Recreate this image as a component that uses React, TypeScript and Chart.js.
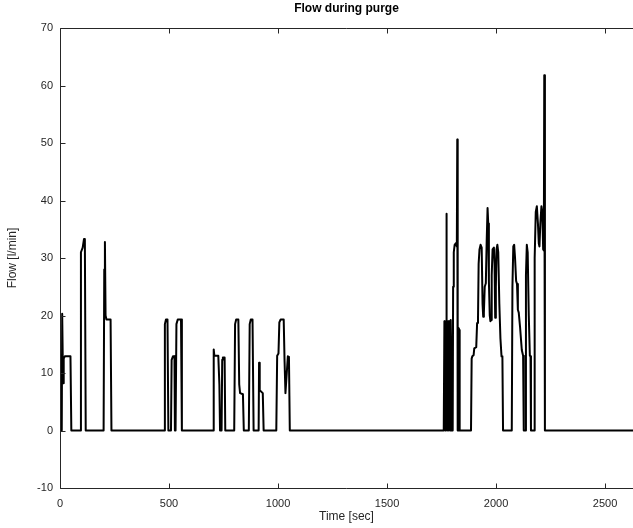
import React, { useEffect, useRef } from "react";
import { Chart, registerables } from "chart.js";

Chart.register(...registerables);

// Time [sec] and flow [l/min] samples, grouped by purge burst
const burstA_t = [0, 8, 10, 12, 14, 17, 22, 48, 52, 92, 96, 104, 110, 114, 118, 200, 203, 206, 209, 213, 232, 236];
const burstA_v = [0, 0, 20.3, 20.3, 8.2, 12.5, 12.9, 12.9, 0, 0, 31, 31.8, 33.3, 33.3, 0, 0, 28, 32.8, 20, 19.3, 19.3, 0];

const burstB_t = [477, 481, 486, 493, 497, 509, 512, 518, 525, 527, 530, 534, 540, 555, 559];
const burstB_v = [0, 18.5, 19.3, 19.3, 0, 0, 12.3, 12.9, 12.9, 0, 0, 18.5, 19.3, 19.3, 0];

const burstC_t = [702, 705, 708, 726, 731, 734, 741, 744, 747, 755, 758, 799, 803, 808, 818, 822, 826, 839, 843, 866, 870, 875, 883, 888, 911, 913, 916, 930, 934, 992, 996, 1002, 1006, 1012, 1026, 1030, 1034, 1040, 1045, 1050, 1054];
const burstC_v = [0, 14.1, 13, 13, 8, 0, 0, 12.3, 12.7, 12.7, 0, 0, 18.5, 19.3, 19.3, 8, 6.5, 6.3, 0, 0, 18.5, 19.3, 19.3, 0, 0, 11.8, 7, 6.5, 0, 0, 13, 13.4, 18.8, 19.3, 19.3, 12, 6.5, 10, 12.9, 12.8, 0];

const burstD_t = [1760, 1763, 1765, 1767, 1769, 1771, 1772, 1774, 1776, 1780, 1782, 1784, 1786, 1788, 1790, 1792, 1794, 1796, 1801, 1803, 1806, 1810, 1816, 1820, 1822, 1824, 1828, 1829, 1831, 1833];
const burstD_v = [0, 19, 14, 0, 19, 13.8, 37.7, 14, 0, 19, 14.5, 0, 19, 13, 0, 19.2, 14, 0, 0, 25, 31, 32.3, 32.6, 32, 50.6, 0, 0, 17.8, 17.5, 0];

const burstE_t = [1885, 1888, 1891, 1897, 1900, 1909, 1913, 1917, 1920, 1924, 1929, 1934, 1938, 1941, 1944, 1948, 1953, 1957, 1961, 1964, 1967, 1971, 1974, 1977, 1980, 1984, 1990, 1993, 1996, 1999, 2002, 2006, 2010, 2015, 2020, 2025, 2029, 2032];
const burstE_v = [0, 12.5, 12.9, 13.1, 14.3, 14.5, 18.7, 19, 29, 31.5, 32.3, 31.8, 22, 19.8, 20.5, 25, 25.6, 33, 38.7, 36, 26, 20, 19, 19.2, 27, 31.5, 31.8, 29, 19.6, 25, 31.5, 32.3, 31, 22, 16, 12.9, 12.9, 0];

const burstF_t = [2072, 2075, 2079, 2083, 2087, 2092, 2096, 2100, 2104, 2110, 2118, 2124, 2127, 2134, 2137, 2141, 2145, 2150, 2155, 2158, 2160, 2174, 2177, 2182, 2187, 2192, 2196, 2199, 2203, 2208, 2212, 2216, 2219, 2221, 2224, 2628];
const burstF_v = [0, 25, 32, 32.3, 30, 26, 25.5, 21, 20.5, 18, 14, 13, 0, 0, 27, 32.3, 31, 20, 13, 12.9, 0, 0, 30, 38, 39, 36, 32.5, 32, 36, 39, 38, 31.5, 31.3, 61.8, 0, 0];

const xTicks = [0, 500, 1000, 1500, 2000, 2500];
const yTicks = [-10, 0, 10, 20, 30, 40, 50, 60, 70];

const X_MIN = 0;
const X_MAX = 2628;
const Y_MIN = -10;
const Y_MAX = 70;

const TITLE = "Flow during purge";
const FONT = "'Liberation Sans', Arial, Helvetica, sans-serif";
const AXIS_COLOR = "#262626";

const matlabAxes = {
  id: "matlabAxes",
  afterDatasetsDraw(chart: any) {
    const { ctx, chartArea, scales } = chart;
    const { left, right, top, bottom } = chartArea;
    const x = scales.x;
    const y = scales.y;
    ctx.save();
    ctx.strokeStyle = AXIS_COLOR;
    ctx.lineWidth = 1;
    ctx.beginPath();
    const l = Math.round(left) + 0.5;
    const t = Math.round(top) + 0.5;
    const b = Math.round(bottom) + 0.5;
    ctx.moveTo(l, t);
    ctx.lineTo(right, t);
    ctx.moveTo(l, t);
    ctx.lineTo(l, b);
    ctx.moveTo(l, b);
    ctx.lineTo(right, b);
    const tl = 5;
    xTicks.forEach((v) => {
      const px = Math.round(x.getPixelForValue(v)) + 0.5;
      ctx.moveTo(px, b);
      ctx.lineTo(px, b - tl);
      ctx.moveTo(px, t);
      ctx.lineTo(px, t + tl);
    });
    yTicks.forEach((v) => {
      const py = Math.round(y.getPixelForValue(v)) + 0.5;
      ctx.moveTo(l, py);
      ctx.lineTo(l + tl, py);
    });
    ctx.stroke();

    // axes title, centred over the plot area
    ctx.fillStyle = "#000000";
    ctx.font = `bold 12px ${FONT}`;
    ctx.textAlign = "center";
    ctx.textBaseline = "middle";
    ctx.fillText(TITLE, (left + right) / 2, 9);
    ctx.restore();
  },
};

function toPoints(ts: number[], vs: number[]) {
  return ts.map((t, i) => ({ x: t, y: vs[i] }));
}

export default function App() {
  const canvasRef = useRef<HTMLCanvasElement | null>(null);

  useEffect(() => {
    const canvas = canvasRef.current;
    if (!canvas) return;
    const points = [
      ...toPoints(burstA_t, burstA_v),
      ...toPoints(burstB_t, burstB_v),
      ...toPoints(burstC_t, burstC_v),
      ...toPoints(burstD_t, burstD_v),
      ...toPoints(burstE_t, burstE_v),
      ...toPoints(burstF_t, burstF_v),
    ];
    const chart = new Chart(canvas, {
      type: "line",
      data: {
        datasets: [
          {
            label: "Flow",
            data: points,
            borderColor: "#000000",
            borderWidth: 2,
            pointRadius: 0,
            tension: 0,
            borderJoinStyle: "round",
            borderCapStyle: "round",
            fill: false,
          },
        ],
      },
      options: {
        responsive: false,
        animation: false,
        parsing: false,
        layout: { padding: { top: 28, left: 0, right: 0, bottom: 0 } },
        plugins: {
          legend: { display: false },
          tooltip: { enabled: false },
          title: { display: false },
        },
        scales: {
          x: {
            type: "linear",
            min: X_MIN,
            max: X_MAX,
            afterBuildTicks: (s: any) => {
              s.ticks = xTicks.map((v) => ({ value: v }));
            },
            afterFit: (s: any) => {
              s.height = 40;
            },
            grid: { display: false, drawTicks: false },
            border: { display: false },
            ticks: {
              color: AXIS_COLOR,
              font: { family: FONT, size: 11 },
              padding: 9,
              maxRotation: 0,
              autoSkip: false,
              callback: (v: any) => String(v),
            },
            title: {
              display: true,
              text: "Time [sec]",
              color: AXIS_COLOR,
              font: { family: FONT, size: 12 },
              padding: { top: 0, bottom: 4 },
            },
          },
          y: {
            type: "linear",
            min: Y_MIN,
            max: Y_MAX,
            afterBuildTicks: (s: any) => {
              s.ticks = yTicks.map((v) => ({ value: v }));
            },
            afterFit: (s: any) => {
              s.width = 60;
            },
            grid: { display: false, drawTicks: false },
            border: { display: false },
            ticks: {
              color: AXIS_COLOR,
              font: { family: FONT, size: 11 },
              padding: 7,
              autoSkip: false,
              callback: (v: any) => String(v),
            },
            title: {
              display: true,
              text: "Flow [l/min]",
              color: AXIS_COLOR,
              font: { family: FONT, size: 12 },
              padding: { top: 5, bottom: 0 },
            },
          },
        },
      },
      plugins: [matlabAxes],
    } as any);
    return () => chart.destroy();
  }, []);

  return (
    <div style={{ position: "absolute", left: 0, top: 0, width: 633, height: 528, background: "#ffffff" }}>
      <canvas ref={canvasRef} width={633} height={528} style={{ display: "block" }} />
    </div>
  );
}
